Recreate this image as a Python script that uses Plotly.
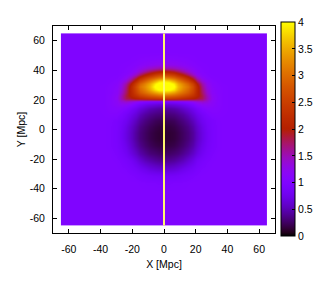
import math
import plotly.graph_objects as go

# ---- data ----
# grid x positions for x >= 0 (mirrored to negative x)
x_half = [0, 3, 6, 9, 12, 15, 18, 21, 24, 27, 30, 34, 38, 43]
y_grid = [-42, -36, -31, -26, -21, -16, -11, -6, -2, 2, 6, 10, 14, 17, 19, 21, 23,
          25, 27, 29, 31, 33, 35, 37, 39, 41, 44, 48, 53]
# field values, one row per y_grid entry, columns follow x_half
z_half = [
    [1.0, 1.0, 1.0, 1.0, 1.0, 1.0, 1.0, 1.0, 1.0, 1.0, 1.0, 1.0, 1.0, 1.0],          # -42
    [0.96, 0.96, 0.97, 0.97, 0.98, 0.99, 1.0, 1.0, 1.0, 1.0, 1.0, 1.0, 1.0, 1.0],    # -36
    [0.83, 0.84, 0.85, 0.87, 0.9, 0.93, 0.96, 0.98, 1.0, 1.0, 1.0, 1.0, 1.0, 1.0],   # -31
    [0.6, 0.61, 0.64, 0.68, 0.75, 0.81, 0.87, 0.93, 0.97, 0.99, 1.0, 1.0, 1.0, 1.0], # -26
    [0.38, 0.39, 0.42, 0.47, 0.53, 0.63, 0.73, 0.84, 0.91, 0.96, 0.99, 1.0, 1.0, 1.0],  # -21
    [0.25, 0.26, 0.29, 0.32, 0.39, 0.47, 0.58, 0.7, 0.82, 0.9, 0.96, 1.0, 1.0, 1.0],    # -16
    [0.16, 0.17, 0.19, 0.23, 0.29, 0.37, 0.47, 0.61, 0.75, 0.86, 0.93, 0.98, 1.0, 1.0], # -11
    [0.125, 0.13, 0.15, 0.19, 0.25, 0.32, 0.42, 0.56, 0.7, 0.83, 0.92, 0.98, 1.0, 1.0], # -6
    [0.125, 0.13, 0.15, 0.19, 0.25, 0.32, 0.42, 0.56, 0.7, 0.83, 0.92, 0.98, 1.0, 1.0], # -2
    [0.15, 0.155, 0.18, 0.22, 0.28, 0.35, 0.46, 0.59, 0.73, 0.85, 0.93, 0.98, 1.0, 1.0],  # 2
    [0.2, 0.21, 0.23, 0.28, 0.34, 0.42, 0.53, 0.66, 0.79, 0.88, 0.94, 0.99, 1.0, 1.0],    # 6
    [0.3, 0.31, 0.33, 0.37, 0.43, 0.52, 0.64, 0.75, 0.86, 0.96, 1.02, 1.03, 1.01, 1.0],   # 10
    [0.42, 0.43, 0.46, 0.5, 0.58, 0.67, 0.77, 0.88, 1.0, 1.06, 1.08, 1.05, 1.02, 1.0],    # 14
    [0.62, 0.63, 0.66, 0.7, 0.76, 0.84, 0.95, 1.08, 1.18, 1.2, 1.15, 1.07, 1.02, 1.0],    # 17
    [0.9, 0.9, 0.92, 0.95, 1.0, 1.08, 1.2, 1.32, 1.4, 1.32, 1.17, 1.07, 1.02, 1.0],       # 19
    [2.4, 2.4, 2.35, 2.3, 2.22, 2.12, 2.02, 1.9, 1.78, 1.5, 1.22, 1.08, 1.02, 1.0],       # 21
    [3.0, 2.98, 2.9, 2.8, 2.65, 2.5, 2.3, 2.08, 1.82, 1.48, 1.2, 1.08, 1.02, 1.0],        # 23
    [3.6, 3.55, 3.4, 3.2, 3.0, 2.8, 2.5, 2.12, 1.75, 1.4, 1.16, 1.06, 1.02, 1.0],         # 25
    [4.1, 4.05, 3.85, 3.5, 3.2, 2.95, 2.6, 2.15, 1.7, 1.35, 1.15, 1.06, 1.02, 1.0],       # 27
    [4.4, 4.35, 4.05, 3.6, 3.3, 3.05, 2.65, 2.15, 1.65, 1.3, 1.12, 1.05, 1.02, 1.0],      # 29
    [4.3, 4.2, 3.9, 3.5, 3.2, 2.9, 2.5, 2.0, 1.55, 1.25, 1.1, 1.04, 1.01, 1.0],           # 31
    [3.8, 3.7, 3.45, 3.15, 2.85, 2.55, 2.15, 1.7, 1.35, 1.15, 1.06, 1.02, 1.0, 1.0],      # 33
    [3.15, 3.08, 2.92, 2.7, 2.45, 2.15, 1.8, 1.45, 1.2, 1.08, 1.03, 1.01, 1.0, 1.0],      # 35
    [2.6, 2.55, 2.42, 2.2, 1.98, 1.72, 1.45, 1.22, 1.1, 1.04, 1.01, 1.0, 1.0, 1.0],       # 37
    [2.05, 2.0, 1.92, 1.78, 1.6, 1.42, 1.24, 1.11, 1.05, 1.02, 1.0, 1.0, 1.0, 1.0],       # 39
    [1.6, 1.58, 1.52, 1.45, 1.35, 1.25, 1.15, 1.08, 1.04, 1.02, 1.0, 1.0, 1.0, 1.0],      # 41
    [1.25, 1.24, 1.22, 1.19, 1.15, 1.11, 1.07, 1.04, 1.02, 1.01, 1.0, 1.0, 1.0, 1.0],     # 44
    [1.08, 1.08, 1.07, 1.06, 1.05, 1.04, 1.02, 1.01, 1.0, 1.0, 1.0, 1.0, 1.0, 1.0],       # 48
    [1.0, 1.0, 1.0, 1.0, 1.0, 1.0, 1.0, 1.0, 1.0, 1.0, 1.0, 1.0, 1.0, 1.0],               # 53
]
background_value = 1.0
box_edges = [-65, 65]          # extent of the map
los_x = [0, 0]                 # line of sight
los_y = [-65, 65]
x_ticks = [-60, -40, -20, 0, 20, 40, 60]
x_labels = ["-60", "-40", "-20", "0", "20", "40", "60"]
y_ticks = [-60, -40, -20, 0, 20, 40, 60]
y_labels = ["-60", "-40", "-20", "0", "20", "40", "60"]
cb_ticks = [0, 0.5, 1, 1.5, 2, 2.5, 3, 3.5, 4]
cb_labels = ["0", "0.5", "1", "1.5", "2", "2.5", "3", "3.5", "4"]

# ---- build mirrored grid ----
x_full = [-v for v in x_half[:0:-1]] + x_half
z_full = [row[:0:-1] + row for row in z_half]

# gnuplot default palette (rgbformulae 7,5,15)
def pal(t):
    r = math.sqrt(t)
    g = t ** 3
    b = max(0.0, math.sin(2 * math.pi * t))
    return "rgb(%d,%d,%d)" % (round(255 * r), round(255 * g), round(255 * b))

cscale = [[i / 60, pal(i / 60)] for i in range(61)]

FONT = "Liberation Sans"
FS = 10.5

fig = go.Figure()
fig.add_trace(go.Heatmap(
    x=box_edges, y=box_edges, z=[[background_value]],
    zmin=0, zmax=4, colorscale=cscale, showscale=False, hoverinfo="skip"))
fig.add_trace(go.Heatmap(
    x=x_full, y=y_grid, z=z_full, zmin=0, zmax=4, colorscale=cscale,
    zsmooth="best", showscale=True,
    colorbar=dict(
        x=1.027, xanchor="left", xpad=0, ypad=0,
        y=1.019, yanchor="top", lenmode="pixels", len=214,
        thickness=14, outlinewidth=1, outlinecolor="black",
        tickvals=cb_ticks, ticktext=cb_labels, ticks="inside", ticklen=3,
        tickcolor="black",
        tickfont=dict(family=FONT, size=FS, color="black"),
    )))
fig.add_trace(go.Scatter(
    x=los_x, y=los_y, mode="lines",
    line=dict(color="rgb(255,248,110)", width=2), hoverinfo="skip", showlegend=False))

axis_common = dict(
    range=[-70, 70], showgrid=False, zeroline=False, showline=True,
    linecolor="black", linewidth=1, mirror="allticks", ticks="inside",
    ticklen=4, tickcolor="black", tickfont=dict(family=FONT, size=FS, color="black"),
)
fig.update_layout(
    width=327, height=286,
    margin=dict(l=53, r=52, t=26, b=53, autoexpand=False),
    paper_bgcolor="white", plot_bgcolor="white", showlegend=False,
    xaxis=dict(axis_common, tickvals=x_ticks, ticktext=x_labels, ticklabelstandoff=6,
               title=dict(text="X [Mpc]", font=dict(family=FONT, size=FS, color="black"), standoff=7)),
    yaxis=dict(axis_common, tickvals=y_ticks, ticktext=y_labels, ticklabelstandoff=5,
               title=dict(text="Y [Mpc]", font=dict(family=FONT, size=FS, color="black"), standoff=2)),
)
fig.write_html("out.html", config={"displayModeBar": False},
               post_script="document.body.style.margin='0';")
